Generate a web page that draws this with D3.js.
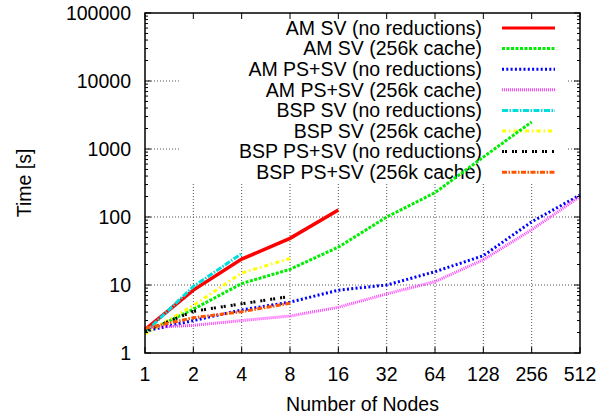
<!DOCTYPE html>
<html>
<head>
<meta charset="utf-8">
<script src="https://cdn.jsdelivr.net/npm/d3@7"></script>
<style>
  body { margin: 0; background: #fff; }
  text { font-family: "Liberation Sans", Arial, sans-serif; fill: #000; }
</style>
</head>
<body>
<svg width="611" height="417"></svg>
<script>
// node counts on the x axis
var nodes = [1, 2, 4, 8, 16, 32, 64, 128, 256, 512];
var yTicks = [1, 10, 100, 1000, 10000, 100000];

// timings in seconds, one entry per node count (series stop where runs stopped)
var amSvNoRed     = [2.2, 8.4, 24, 48.5, 127];
var amSvCache     = [2.0, 4.4, 10.5, 17, 36, 100, 228, 760, 2500];
var amPsSvNoRed   = [2.1, 3.0, 4.3, 5.6, 8.4, 10, 15.7, 27, 85, 210];
var amPsSvCache   = [2.35, 2.55, 3.0, 3.5, 4.7, 7.4, 11.2, 23.5, 65, 200];
var bspSvNoRed    = [2.0, 9.5, 29];
var bspSvCache    = [1.9, 5.0, 15, 24.5];
var bspPsSvNoRed  = [2.1, 4.1, 5.3, 6.8];
var bspPsSvCache  = [2.3, 3.3, 4.05, 5.4];

var seriesNames = ["AM SV (no reductions)", "AM SV (256k cache)", "AM PS+SV (no reductions)",
  "AM PS+SV (256k cache)", "BSP SV (no reductions)", "BSP SV (256k cache)",
  "BSP PS+SV (no reductions)", "BSP PS+SV (256k cache)"];
var seriesValues = [amSvNoRed, amSvCache, amPsSvNoRed, amPsSvCache,
  bspSvNoRed, bspSvCache, bspPsSvNoRed, bspPsSvCache];
var colors = ["#ff0000", "#00ee00", "#0000ff", "#ff44ff", "#00dddd", "#ffff00", "#000000", "#ff5500"];
var dashes = ["none", "3,1.5", "2,2.3", "1,1", "6,1.5,1.5,1.5", "4,3,1.5,3", "2,1,2,5", "5,1.5,1.5,1.5"];

var margin = {top: 13, right: 31, bottom: 64, left: 145},
    width = 611 - margin.left - margin.right,
    height = 417 - margin.top - margin.bottom;

var svg = d3.select("svg")
  .append("g")
  .attr("transform", "translate(" + margin.left + "," + margin.top + ")");

var x = d3.scaleLog().base(2).domain([1, 512]).range([0, width]);
var y = d3.scaleLog().domain([1, 100000]).range([height, 0]);

// grid
svg.append("g").selectAll("line")
  .data(nodes.slice(1, -1))
  .enter().append("line")
  .attr("x1", d => x(d)).attr("x2", d => x(d))
  .attr("y1", 0).attr("y2", height)
  .style("stroke", "#555").style("stroke-width", 1).style("stroke-dasharray", "1,2");

svg.append("g").selectAll("line")
  .data(yTicks.slice(1, -1))
  .enter().append("line")
  .attr("x1", 0).attr("x2", width)
  .attr("y1", d => y(d)).attr("y2", d => y(d))
  .style("stroke", "#555").style("stroke-width", 1).style("stroke-dasharray", "1,2");

// legend background covers the grid
svg.append("rect")
  .attr("x", 35).attr("y", 0)
  .attr("width", 388).attr("height", 170)
  .style("fill", "#fff");

// legend
var legend = svg.append("g").attr("class", "legend");
seriesNames.forEach(function(name, i) {
  var ly = 15 + i * 20.6;
  legend.append("text")
    .attr("x", 337).attr("y", ly)
    .attr("dy", "0.35em")
    .attr("text-anchor", "end")
    .style("font-size", "19.5px")
    .text(name);
  legend.append("line")
    .attr("x1", 357).attr("x2", 410)
    .attr("y1", ly).attr("y2", ly)
    .style("stroke", colors[i])
    .style("stroke-width", 3)
    .style("stroke-dasharray", dashes[i]);
});

// data lines
var line = d3.line()
  .x(function(d, i) { return x(nodes[i]); })
  .y(function(d) { return y(d); });

svg.append("g").selectAll("path")
  .data(seriesValues)
  .enter().append("path")
  .attr("d", line)
  .style("fill", "none")
  .style("stroke", (d, i) => colors[i])
  .style("stroke-width", (d, i) => i == 0 ? 3.5 : 3)
  .style("stroke-dasharray", (d, i) => dashes[i]);

// frame and ticks
svg.append("rect")
  .attr("width", width).attr("height", height)
  .style("fill", "none").style("stroke", "#000").style("stroke-width", 1.5);

var minor = [];
yTicks.slice(0, -1).forEach(function(t) {
  for (var k = 2; k < 10; k++) minor.push(t * k);
});

var ticks = svg.append("g").style("stroke", "#000").style("stroke-width", 1);
[0, width].forEach(function(edge) {
  var dir = edge == 0 ? 1 : -1;
  ticks.selectAll(null).data(yTicks).enter().append("line")
    .attr("x1", edge).attr("x2", edge + dir * 6)
    .attr("y1", d => y(d)).attr("y2", d => y(d));
  ticks.selectAll(null).data(minor).enter().append("line")
    .attr("x1", edge).attr("x2", edge + dir * 3)
    .attr("y1", d => y(d)).attr("y2", d => y(d));
});
[0, height].forEach(function(edge) {
  var dir = edge == 0 ? 1 : -1;
  ticks.selectAll(null).data(nodes).enter().append("line")
    .attr("y1", edge).attr("y2", edge + dir * 6)
    .attr("x1", d => x(d)).attr("x2", d => x(d));
});

// tick labels
svg.append("g").selectAll("text")
  .data(yTicks)
  .enter().append("text")
  .attr("x", -14).attr("y", d => y(d))
  .attr("dy", "0.35em")
  .attr("text-anchor", "end")
  .style("font-size", "19.5px")
  .text(d => d);

svg.append("g").selectAll("text")
  .data(nodes)
  .enter().append("text")
  .attr("x", d => x(d)).attr("y", height + 28)
  .attr("text-anchor", "middle")
  .style("font-size", "19.5px")
  .text(d => d);

// axis titles
svg.append("text")
  .attr("x", width / 2).attr("y", height + 58)
  .attr("text-anchor", "middle")
  .style("font-size", "19.5px")
  .text("Number of Nodes");

svg.append("text")
  .attr("transform", "translate(" + (-114) + "," + (height / 2) + ") rotate(-90)")
  .attr("text-anchor", "middle")
  .style("font-size", "19.5px")
  .text("Time [s]");
</script>
</body>
</html>
